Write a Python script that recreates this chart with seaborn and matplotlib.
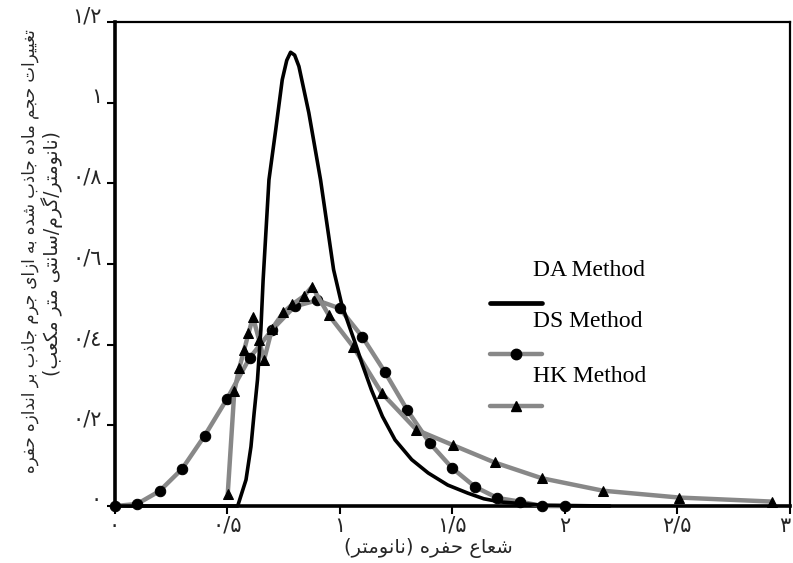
import matplotlib
matplotlib.use("Agg")
import matplotlib.pyplot as plt
import matplotlib.transforms as mtransforms
import seaborn as sns
import numpy as np
import pandas as pd

# ---------------- data ----------------
da_x = [0.0, 0.547, 0.584, 0.606, 0.62, 0.635, 0.65, 0.66, 0.686, 0.716, 0.745, 0.765, 0.782,
        0.80, 0.819, 0.863, 0.915, 0.973, 1.009, 1.04, 1.069, 1.10, 1.141, 1.19, 1.246, 1.32,
        1.393, 1.48, 1.569, 1.64, 1.715, 1.9, 2.2]
da_y = [0.0, 0.0, 0.065, 0.147, 0.23, 0.313, 0.437, 0.56, 0.809, 0.933, 1.057, 1.105, 1.125,
        1.118, 1.09, 0.975, 0.809, 0.586, 0.50, 0.45, 0.404, 0.352, 0.288, 0.222, 0.164, 0.115,
        0.082, 0.052, 0.032, 0.018, 0.01, 0.002, 0.0]

ds_x = [0.0, 0.1, 0.2, 0.3, 0.4, 0.5, 0.6, 0.7, 0.8, 0.9, 1.0, 1.1, 1.2, 1.3, 1.4,
        1.5, 1.6, 1.7, 1.8, 1.9, 2.0]
ds_y = [0.0, 0.005, 0.037, 0.092, 0.174, 0.266, 0.367, 0.437, 0.495, 0.51, 0.49, 0.42,
        0.333, 0.238, 0.156, 0.094, 0.048, 0.02, 0.011, 0.0, 0.0]

hk_x = [0.503, 0.532, 0.554, 0.576, 0.595, 0.615, 0.642, 0.664, 0.70, 0.75, 0.79, 0.84,
        0.878, 0.951, 1.06, 1.187, 1.341, 1.503, 1.688, 1.897, 2.169, 2.508, 2.92]
hk_y = [0.031, 0.284, 0.342, 0.387, 0.428, 0.468, 0.412, 0.362, 0.44, 0.48, 0.50, 0.52,
        0.544, 0.474, 0.395, 0.28, 0.189, 0.151, 0.108, 0.069, 0.038, 0.021, 0.011]

x_ticks = [0, 0.5, 1, 1.5, 2, 2.5, 3]
x_tick_labels = ["۰", "۰/۵", "۱", "۱/۵", "۲", "۲/۵", "۳"]
y_ticks = [0, 0.2, 0.4, 0.6, 0.8, 1.0, 1.2]
y_tick_labels = ["۰", "۰/٢", "۰/٤", "۰/٦", "۰/۸", "۱", "۱/٢"]

series_names = ["DA Method", "DS Method", "HK Method"]
x_label = "شعاع حفره (نانومتر)"
y_label_1 = "تغییرات حجم ماده جاذب شده به ازای جرم جاذب بر اندازه حفره"
y_label_2 = "(نانومتر/گرم/سانتی متر مکعب)"

# ---------------- simple Persian shaping (RTL display) ----------------
FORMS = {
    'ا': ('\uFE8D', '\uFE8E', None, None), 'آ': ('\uFE81', '\uFE82', None, None),
    'ب': ('\uFE8F', '\uFE90', '\uFE91', '\uFE92'), 'پ': ('\uFB56', '\uFB57', '\uFB58', '\uFB59'),
    'ت': ('\uFE95', '\uFE96', '\uFE97', '\uFE98'), 'ث': ('\uFE99', '\uFE9A', '\uFE9B', '\uFE9C'),
    'ج': ('\uFE9D', '\uFE9E', '\uFE9F', '\uFEA0'), 'چ': ('\uFB7A', '\uFB7B', '\uFB7C', '\uFB7D'),
    'ح': ('\uFEA1', '\uFEA2', '\uFEA3', '\uFEA4'), 'خ': ('\uFEA5', '\uFEA6', '\uFEA7', '\uFEA8'),
    'د': ('\uFEA9', '\uFEAA', None, None), 'ذ': ('\uFEAB', '\uFEAC', None, None),
    'ر': ('\uFEAD', '\uFEAE', None, None), 'ز': ('\uFEAF', '\uFEB0', None, None),
    'ژ': ('\uFB8A', '\uFB8B', None, None),
    'س': ('\uFEB1', '\uFEB2', '\uFEB3', '\uFEB4'), 'ش': ('\uFEB5', '\uFEB6', '\uFEB7', '\uFEB8'),
    'ص': ('\uFEB9', '\uFEBA', '\uFEBB', '\uFEBC'), 'ض': ('\uFEBD', '\uFEBE', '\uFEBF', '\uFEC0'),
    'ط': ('\uFEC1', '\uFEC2', '\uFEC3', '\uFEC4'), 'ظ': ('\uFEC5', '\uFEC6', '\uFEC7', '\uFEC8'),
    'ع': ('\uFEC9', '\uFECA', '\uFECB', '\uFECC'), 'غ': ('\uFECD', '\uFECE', '\uFECF', '\uFED0'),
    'ف': ('\uFED1', '\uFED2', '\uFED3', '\uFED4'), 'ق': ('\uFED5', '\uFED6', '\uFED7', '\uFED8'),
    'ک': ('\uFB8E', '\uFB8F', '\uFB90', '\uFB91'), 'گ': ('\uFB92', '\uFB93', '\uFB94', '\uFB95'),
    'ل': ('\uFEDD', '\uFEDE', '\uFEDF', '\uFEE0'), 'م': ('\uFEE1', '\uFEE2', '\uFEE3', '\uFEE4'),
    'ن': ('\uFEE5', '\uFEE6', '\uFEE7', '\uFEE8'), 'و': ('\uFEED', '\uFEEE', None, None),
    'ه': ('\uFEE9', '\uFEEA', '\uFEEB', '\uFEEC'), 'ی': ('\uFBFC', '\uFBFD', '\uFBFE', '\uFBFF'),
}


def fa(s):
    out = []
    n = len(s)
    for i, c in enumerate(s):
        if c not in FORMS:
            out.append(c)
            continue
        prev = s[i - 1] if i > 0 else ''
        nxt = s[i + 1] if i < n - 1 else ''
        jp = prev in FORMS and FORMS[prev][2] is not None
        jn = FORMS[c][2] is not None and nxt in FORMS
        f = FORMS[c]
        if jp and jn:
            g = f[3]
        elif jp:
            g = f[1]
        elif jn:
            g = f[2]
        else:
            g = f[0]
        out.append(g)
    vis = ''.join(out)[::-1]
    return vis.translate(str.maketrans('()', ')('))


# ---------------- figure ----------------
sns.set_theme(style="white")
plt.rcParams['font.family'] = ['DejaVu Sans']
plt.rcParams['axes.unicode_minus'] = False

fig = plt.figure(figsize=(7.93, 5.63), dpi=100)
ax = fig.add_axes([0.1444, 0.1012, 0.8518, 0.8597])

gray = "#888888"
df_ds = pd.DataFrame({"x": ds_x, "y": ds_y})
df_hk = pd.DataFrame({"x": hk_x, "y": hk_y})
df_da = pd.DataFrame({"x": da_x, "y": da_y})

sns.lineplot(data=df_ds, x="x", y="y", ax=ax, color=gray, lw=3.2, marker="o",
             markersize=7.5, markerfacecolor="black", markeredgecolor="black",
             estimator=None, sort=False, clip_on=False, zorder=3)
sns.lineplot(data=df_hk, x="x", y="y", ax=ax, color=gray, lw=3.2, marker="^",
             markersize=7.5, markerfacecolor="black", markeredgecolor="black",
             estimator=None, sort=False, clip_on=False, zorder=3)
sns.lineplot(data=df_da, x="x", y="y", ax=ax, color="black", lw=2.6,
             estimator=None, sort=False, clip_on=False, zorder=4)

ax.set_xlim(0, 2.985)
ax.set_ylim(0, 1.2)
ax.set_xticks(x_ticks)
ax.set_xticklabels(x_tick_labels, fontsize=15)
ax.set_yticks(y_ticks)
ax.set_yticklabels(y_tick_labels, fontsize=15)
ax.tick_params(axis="both", direction="out", length=6, width=1.5, color="black",
               bottom=True, left=True)
ax.tick_params(axis="x", pad=1)
ax.tick_params(axis="y", pad=3)
up = mtransforms.ScaledTranslation(0, 4 / 72, fig.dpi_scale_trans)
for lab in ax.get_yticklabels():
    lab.set_verticalalignment("center")
    lab.set_transform(lab.get_transform() + up)
ax.get_xticklabels()[-1].set_horizontalalignment("right")

for side in ["left", "bottom"]:
    ax.spines[side].set_linewidth(2.6)
    ax.spines[side].set_color("black")
for side in ["top", "right"]:
    ax.spines[side].set_linewidth(1.6)
    ax.spines[side].set_color("black")
ax.grid(False)

ax.set_xlabel(fa(x_label), fontsize=14, va="center")
ax.xaxis.set_label_coords(0.464, -0.087)
ax.set_ylabel("")
ax.text(-0.125, 0.527, fa(y_label_1), rotation=90, ha="center", va="center",
        fontsize=12, transform=ax.transAxes)
ax.text(-0.0925, 0.522, fa(y_label_2), rotation=90, ha="center", va="center",
        fontsize=13.5, transform=ax.transAxes)

# ---------------- legend (manual layout) ----------------
leg_text_y = [0.4876, 0.3808, 0.2671]
leg_line_y = [0.4200, 0.3140, 0.2072]
leg_styles = [dict(color="black", lw=3.4),
              dict(color=gray, lw=3.2, marker="o", markersize=7.5, markevery=[1],
                   markerfacecolor="black", markeredgecolor="black"),
              dict(color=gray, lw=3.2, marker="^", markersize=7.5, markevery=[1],
                   markerfacecolor="black", markeredgecolor="black")]
for name, ty, ly, st in zip(series_names, leg_text_y, leg_line_y, leg_styles):
    ax.text(0.6196, ty, name, transform=ax.transAxes, fontsize=17,
            family="Liberation Serif", ha="left", va="center", color="black")
    ax.plot([0.5558, 0.594, 0.633], [ly, ly, ly], transform=ax.transAxes,
            solid_capstyle="round", clip_on=False, **st)

fig.savefig("out.png", dpi=100)
